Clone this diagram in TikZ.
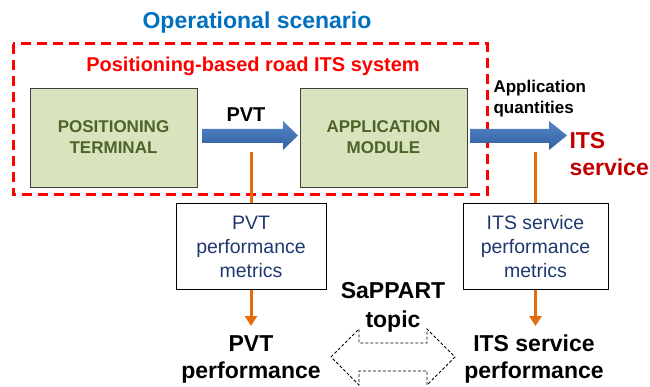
\documentclass[tikz,border=0pt]{standalone}
\usepackage{fontspec}
\setmainfont{Liberation Sans}
\usetikzlibrary{arrows.meta}

\definecolor{scenblue}{RGB}{0,112,192}
\definecolor{sysred}{RGB}{255,0,0}
\definecolor{servred}{RGB}{192,0,0}
\definecolor{blockgreen}{RGB}{215,228,189}
\definecolor{blockolive}{RGB}{79,98,40}
\definecolor{metricnavy}{RGB}{31,56,110}
\definecolor{feedorange}{RGB}{228,108,10}
\definecolor{flowtop}{RGB}{84,134,200}
\definecolor{flowbot}{RGB}{50,96,160}

\tikzset{
  block/.style={draw=black!75, fill=blockgreen, minimum width=167pt, minimum height=99pt,
    text=blockolive, font=\bfseries\fontsize{17}{21}\selectfont, align=center},
  metric/.style={draw, line width=1pt, minimum width=150pt, minimum height=85pt,
    text=metricnavy, font=\fontsize{19.5}{24}\selectfont, align=center},
  perf/.style={font=\bfseries\fontsize{23}{27}\selectfont, align=center},
  feed/.style={draw=feedorange, line width=3pt},
  flow/.style={top color=flowtop, bottom color=flowbot, draw=none},
}

\begin{document}
\begin{tikzpicture}[x=1pt,y=-1pt]
%	helplines
%	\draw[thin] (0,0) grid[step=50] (650,387);
	\useasboundingbox (0,0) rectangle (650,387);

	% titles
	\node (scen) [text=scenblue, font=\bfseries\fontsize{23}{27}\selectfont] at (257,23) {Operational scenario};
	\draw[sysred, line width=3pt, dash pattern=on 10pt off 6pt] (13,44) rectangle (487,195);
	\node (sys) [text=sysred, font=\bfseries\fontsize{20}{24}\selectfont] at (253,66) {Positioning-based road ITS system};

	% the two blocks
	\node (term) [block] at (113.5,137.5) {POSITIONING\\TERMINAL};
	\node (appl) [block] at (383.5,137.5) {APPLICATION\\MODULE};

	% block arrows
	\draw[flow] (202,129) -- (283,129) -- (283,121) -- (298,135.5) -- (283,150) -- (283,143) -- (202,143) -- cycle;
	\node (pvt) [font=\bfseries\fontsize{20}{24}\selectfont] at (246,115) {PVT};
	\draw[flow] (470,129) -- (549,129) -- (549,121) -- (567,135.5) -- (549,150) -- (549,143) -- (470,143) -- cycle;
	\node (aq) [anchor=west, align=left, font=\bfseries\fontsize{17}{21}\selectfont] at (490,98.5) {Application\\quantities};
	\node (its) [anchor=west, align=left, text=servred, font=\bfseries\fontsize{23}{27}\selectfont] at (566,154.5) {ITS\\service};

	% metrics
	\node (pvtm) [metric] at (251,246.5) {PVT\\performance\\metrics};
	\node (itsm) [metric, minimum width=145pt] at (535.5,246.5) {ITS service\\performance\\metrics};
	\coordinate (pvttap) at (251,152);
	\coordinate (itstap) at (535.5,152);

	\node (pvtp) [perf] at (251,359.5) {PVT\\performance};
	\node (itsp) [perf] at (534,359.5) {ITS service\\performance};

	\draw[feed] (pvttap) -- (pvtm.north);
	\draw[feed] (itstap) -- (itsm.north);
	\draw[feed, -{Triangle[width=12pt,length=10pt]}] (pvtm.south) -- (251,326);
	\draw[feed, -{Triangle[width=12pt,length=10pt]}] (itsm.south) -- (535.5,326);

	% topic
	\node (topic) [font=\bfseries\fontsize{23}{29}\selectfont, align=center] at (393,307.5) {SaPPART\\topic};
	\draw[line width=0.8pt, dash pattern=on 3pt off 2pt] (331,357) -- (359,329) -- (359,343) -- (427,343) -- (427,329) -- (455,357)
		-- (427,385) -- (427,371) -- (359,371) -- (359,385) -- cycle;

\end{tikzpicture}
\end{document}
